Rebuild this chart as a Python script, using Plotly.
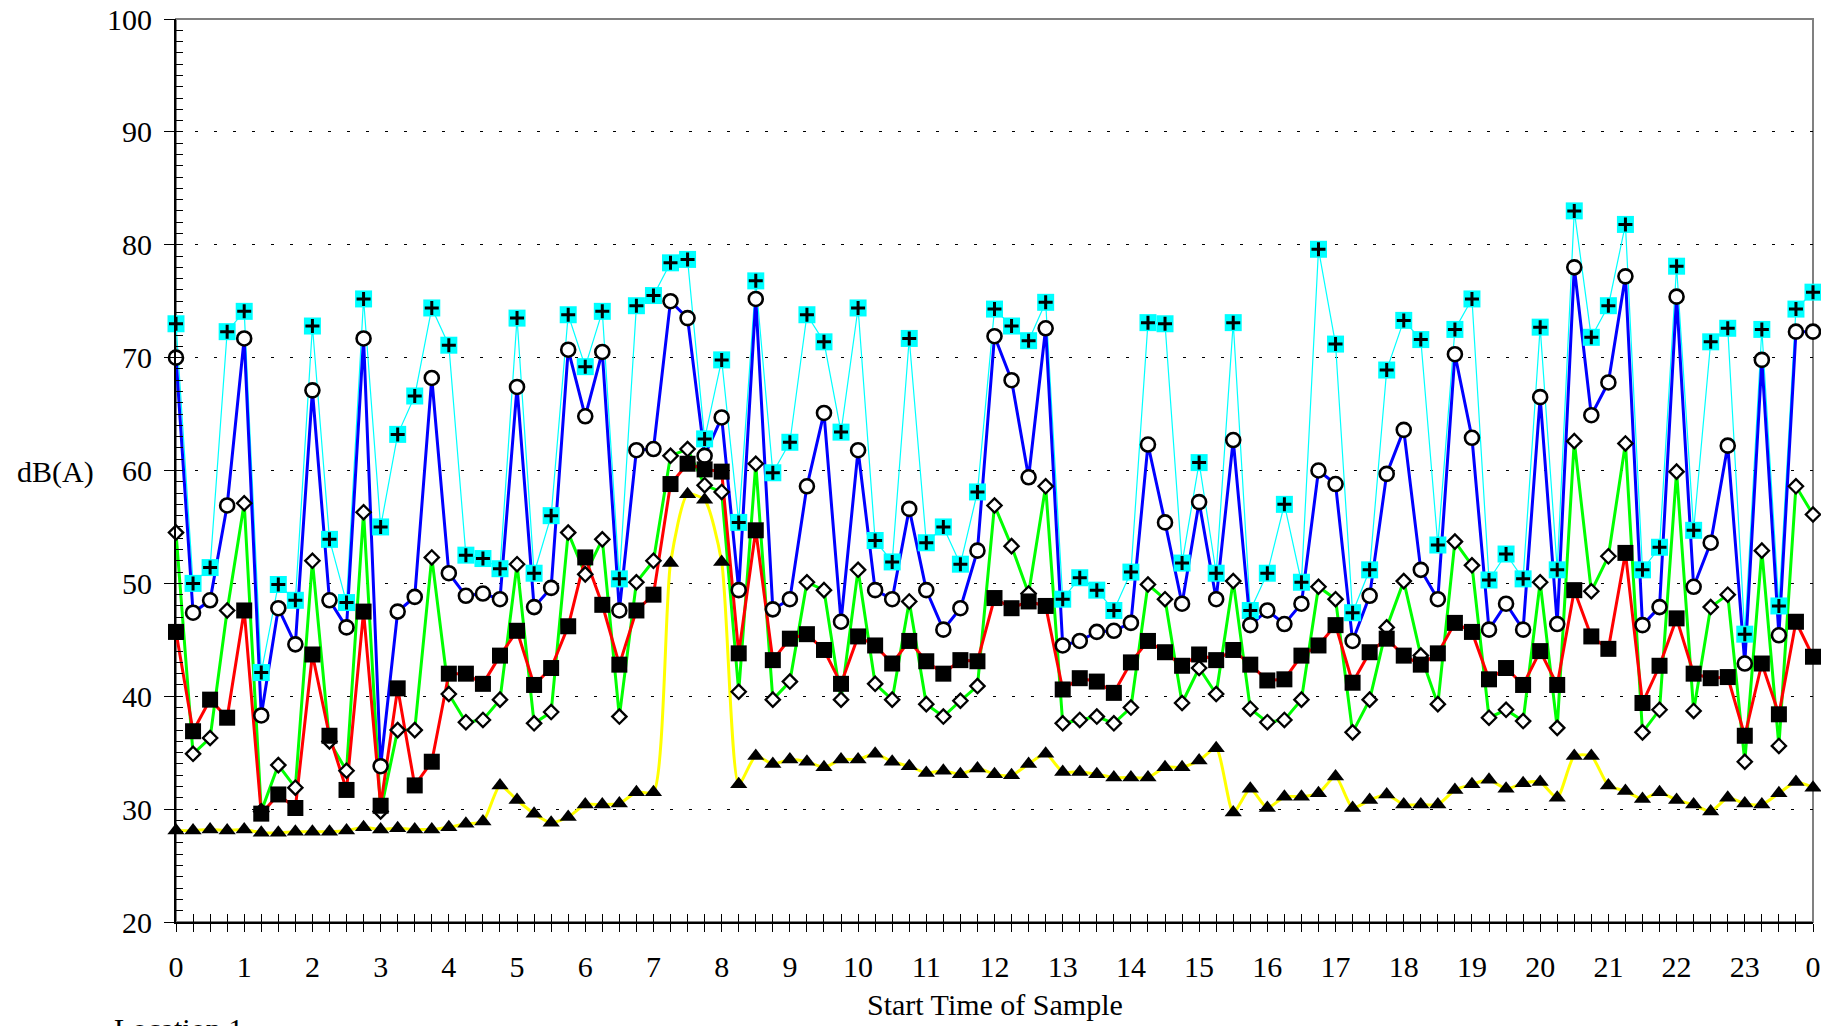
import plotly.graph_objects as go

# ---- data (15-minute samples over 24 h) ----
sample_times = [i * 0.25 for i in range(97)]
hour_ticks = list(range(25))
hour_labels = [str(h % 24) for h in hour_ticks]

lmax = [73.0, 50.0, 51.4, 72.3, 74.1, 42.1, 49.9, 48.5, 72.8, 53.9, 48.3, 75.2,
        55.0, 63.2, 66.6, 74.4, 71.1, 52.5, 52.2, 51.3, 73.5, 50.9, 56.0, 73.8,
        69.2, 74.1, 50.4, 74.6, 75.5, 78.4, 78.7, 62.8, 69.8, 55.4, 76.8, 59.8,
        62.5, 73.8, 71.4, 63.4, 74.4, 53.8, 51.9, 71.7, 53.6, 55.0, 51.7, 58.1,
        74.3, 72.8, 71.5, 74.9, 48.6, 50.5, 49.4, 47.6, 51.0, 73.1, 73.0, 51.8,
        60.7, 50.9, 73.1, 47.6, 50.9, 57.0, 50.1, 79.6, 71.2, 47.4, 51.2, 68.9,
        73.3, 71.6, 53.4, 72.5, 75.2, 50.3, 52.6, 50.4, 72.7, 51.2, 83.0, 71.8,
        74.6, 81.8, 51.2, 53.2, 78.1, 54.7, 71.4, 72.6, 45.5, 72.5, 48.0, 74.3, 75.8]

l1 = [70.0, 47.4, 48.5, 56.9, 71.7, 38.3, 47.8, 44.6, 67.1, 48.5, 46.1, 71.7,
      33.8, 47.5, 48.8, 68.2, 50.9, 48.9, 49.1, 48.6, 67.4, 47.9, 49.6, 70.7,
      64.8, 70.5, 47.6, 61.8, 61.9, 75.0, 73.5, 61.3, 64.7, 49.4, 75.2, 47.7,
      48.6, 58.6, 65.1, 46.6, 61.8, 49.4, 48.6, 56.6, 49.4, 45.9, 47.8, 52.9,
      71.9, 68.0, 59.4, 72.6, 44.5, 44.9, 45.7, 45.8, 46.5, 62.3, 55.4, 48.2,
      57.2, 48.6, 62.7, 46.3, 47.6, 46.4, 48.2, 60.0, 58.8, 44.9, 48.9, 59.7,
      63.6, 51.2, 48.6, 70.3, 62.9, 45.9, 48.2, 45.9, 66.5, 46.4, 78.0, 64.9,
      67.8, 77.2, 46.3, 47.9, 75.4, 49.7, 53.6, 62.2, 42.9, 69.8, 45.4, 72.3, 72.3]

l10 = [54.5, 34.9, 36.3, 47.6, 57.1, 29.8, 33.9, 31.9, 52.0, 36.0, 33.4, 56.3,
       29.8, 37.0, 37.0, 52.3, 40.2, 37.7, 37.9, 39.7, 51.7, 37.6, 38.6, 54.5,
       50.8, 53.9, 38.2, 50.1, 52.0, 61.3, 61.9, 58.7, 58.1, 40.4, 60.6, 39.7,
       41.3, 50.1, 49.4, 39.7, 51.2, 41.1, 39.7, 48.4, 39.3, 38.2, 39.6, 40.9,
       56.9, 53.3, 49.1, 58.6, 37.6, 37.9, 38.2, 37.6, 39.0, 49.9, 48.6, 39.4,
       42.5, 40.2, 50.2, 38.9, 37.7, 37.9, 39.7, 49.7, 48.6, 36.8, 39.7, 46.1,
       50.2, 43.6, 39.3, 53.7, 51.6, 38.1, 38.8, 37.8, 50.1, 37.2, 62.6, 49.3,
       52.4, 62.4, 36.8, 38.8, 59.9, 38.7, 47.9, 49.0, 34.2, 52.9, 35.6, 58.6, 56.1]

leq = [45.7, 36.9, 39.7, 38.1, 47.6, 29.6, 31.3, 30.1, 43.7, 36.5, 31.7, 47.5,
       30.3, 40.7, 32.1, 34.2, 42.0, 42.0, 41.1, 43.6, 45.8, 41.0, 42.5, 46.2,
       52.3, 48.1, 42.8, 47.6, 49.0, 58.8, 60.6, 60.1, 59.9, 43.8, 54.7, 43.2,
       45.1, 45.5, 44.1, 41.1, 45.3, 44.5, 42.9, 44.9, 43.1, 42.0, 43.2, 43.1,
       48.7, 47.8, 48.4, 48.0, 40.6, 41.6, 41.3, 40.3, 43.0, 44.9, 43.9, 42.7,
       43.7, 43.2, 44.1, 42.8, 41.4, 41.5, 43.6, 44.5, 46.3, 41.2, 43.9, 45.1,
       43.6, 42.8, 43.8, 46.5, 45.7, 41.5, 42.5, 41.0, 44.0, 41.0, 49.4, 45.3,
       44.2, 52.7, 39.4, 42.7, 46.9, 42.0, 41.6, 41.7, 36.5, 42.9, 38.4, 46.6, 43.5]

l90 = [28.1, 28.1, 28.2, 28.1, 28.2, 27.9, 27.9, 28.0, 28.0, 28.0, 28.1, 28.4,
       28.2, 28.3, 28.2, 28.2, 28.4, 28.7, 28.9, 32.1, 30.8, 29.6, 28.8, 29.3,
       30.4, 30.4, 30.5, 31.5, 31.5, 51.8, 57.9, 57.4, 51.9, 32.2, 34.7, 34.0,
       34.4, 34.2, 33.7, 34.4, 34.4, 34.9, 34.2, 33.8, 33.2, 33.4, 33.1, 33.6,
       33.1, 33.0, 34.0, 34.9, 33.3, 33.3, 33.1, 32.8, 32.8, 32.8, 33.7, 33.7,
       34.3, 35.4, 29.7, 31.8, 30.1, 31.1, 31.1, 31.4, 32.9, 30.1, 30.8, 31.3,
       30.4, 30.4, 30.4, 31.7, 32.2, 32.6, 31.8, 32.3, 32.4, 31.0, 34.7, 34.7,
       32.1, 31.6, 30.9, 31.5, 30.8, 30.4, 29.8, 31.0, 30.5, 30.4, 31.4, 32.4, 31.9]

FONT = "Liberation Serif, Times New Roman, serif"

fig = go.Figure()

# lines first (base subplot)
line_specs = [
    (lmax, "#00FFFF", 1.2, "linear"),
    (l1, "#0000FF", 3, "linear"),
    (l10, "#00FF00", 3, "linear"),
    (leq, "#FF0000", 3, "linear"),
    (l90, "#FFFF00", 3, "spline"),
]
for ys, col, w, shp in line_specs:
    fig.add_trace(go.Scatter(x=sample_times, y=ys, mode="lines",
                             line=dict(color=col, width=w, shape=shp, smoothing=0.6),
                             cliponaxis=False, showlegend=False, hoverinfo="skip"))

# markers on top (overlay subplot)
marker_specs = [
    (lmax, dict(symbol="square", size=17, color="#00FFFF", line=dict(width=0))),
    (lmax, dict(symbol="cross-thin", size=10, color="black", line=dict(width=3, color="black"))),
    (l1, dict(symbol="circle", size=14, color="white", line=dict(width=2.6, color="black"))),
    (l10, dict(symbol="diamond", size=11, color="white", line=dict(width=2.3, color="black"))),
    (leq, dict(symbol="square", size=16, color="black", line=dict(width=0))),
    (l90, dict(symbol="triangle-up", size=15, color="black", line=dict(width=0))),
]
for ys, mk in marker_specs:
    fig.add_trace(go.Scatter(x=sample_times, y=ys, mode="markers", marker=mk,
                             xaxis="x2", yaxis="y2", cliponaxis=False,
                             showlegend=False, hoverinfo="skip"))

tickfont = dict(family=FONT, size=30, color="black")

fig.update_layout(
    width=1829, height=1026,
    margin=dict(l=167.5, r=24, t=11.3, b=111.5, autoexpand=False),
    paper_bgcolor="white", plot_bgcolor="white",
    showlegend=False,
    xaxis=dict(range=[0, 24], tickmode="array", tickvals=hour_ticks, ticktext=hour_labels,
               ticks="outside", ticklen=8, tickwidth=1, tickcolor="black",
               minor=dict(tick0=0, dtick=0.25, ticks="outside", ticklen=8,
                          tickwidth=1, tickcolor="black", showgrid=False),
               showline=True, linecolor="black", linewidth=2, showgrid=False,
               zeroline=False, tickfont=tickfont, ticklabelstandoff=9, automargin=False,
               ticklabeloverflow="allow"),
    yaxis=dict(range=[20, 100], tickmode="linear", tick0=20, dtick=10,
               ticks="outside", ticklen=10, tickwidth=1, tickcolor="black",
               showline=True, linecolor="black", linewidth=2,
               showgrid=True, gridcolor="black", gridwidth=1, griddash="3px,16px",
               zeroline=False, tickfont=tickfont, ticklabelstandoff=6, automargin=False,
               ticklabeloverflow="allow"),
    xaxis2=dict(overlaying="x", anchor="y2", range=[0, 24], tick0=0, dtick=0.25,
                ticks="inside", ticklen=8, tickwidth=1, tickcolor="black",
                showticklabels=False, showgrid=False, showline=False, zeroline=False,
                automargin=False),
    yaxis2=dict(overlaying="y", anchor="x2", range=[20, 100], tick0=20, dtick=1,
                ticks="inside", ticklen=7, tickwidth=1, tickcolor="black",
                showticklabels=False, showgrid=False, showline=False, zeroline=False,
                automargin=False),
    shapes=[dict(type="rect", xref="x domain", yref="y domain", x0=0, x1=1, y0=0, y1=1,
                 line=dict(color="#808080", width=2), layer="below")],
    annotations=[
        dict(text="dB(A)", xref="paper", yref="paper", x=-0.0736, y=0.4988,
             xanchor="center", yanchor="middle", showarrow=False,
             font=dict(family=FONT, size=30, color="black")),
        dict(text="Start Time of Sample", xref="paper", yref="paper", x=0.5005, y=-0.0913,
             xanchor="center", yanchor="middle", showarrow=False,
             font=dict(family=FONT, size=30, color="black")),
        dict(text="Location 1", xref="paper", yref="paper", x=-0.0394, y=-0.098,
             xanchor="left", yanchor="top", showarrow=False,
             font=dict(family=FONT, size=30, color="black")),
    ],
)

fig.write_html("out.html")
